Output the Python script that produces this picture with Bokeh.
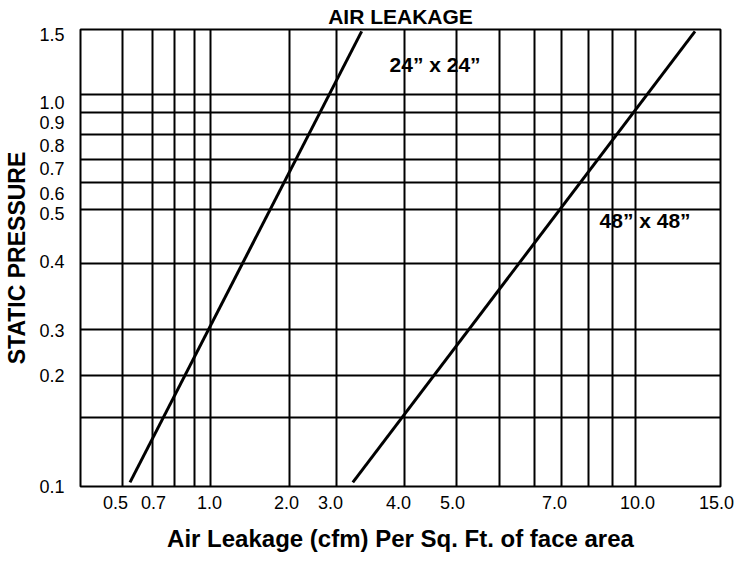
import numpy as np
from bokeh.plotting import figure
from bokeh.models import Range1d, FixedTicker, Label
from bokeh.embed import file_html
from bokeh.resources import INLINE

# ---------------- data ----------------
chart_title = "AIR LEAKAGE"
x_title = "Air Leakage (cfm) Per Sq. Ft. of face area"
y_title = "STATIC PRESSURE"

x_tick_labels = ["0.5", "0.7", "1.0", "2.0", "3.0", "4.0", "5.0", "7.0", "10.0", "15.0"]
x_tick_values = [0.5, 0.7, 1.0, 2.0, 3.0, 4.0, 5.0, 7.0, 10.0, 15.0]
x_grid_values = [0.5, 0.7, 0.8, 0.9, 1.0, 2.0, 3.0, 4.0, 5.0, 5.5, 6.0, 7.0, 8.0, 9.0, 10.0]

y_tick_labels = ["0.1", "0.2", "0.3", "0.4", "0.5", "0.6", "0.7", "0.8", "0.9", "1.0", "1.5"]
y_tick_values = [0.1, 0.2, 0.3, 0.4, 0.5, 0.6, 0.7, 0.8, 0.9, 1.0, 1.5]
y_grid_values = [0.15, 0.2, 0.3, 0.4, 0.5, 0.6, 0.7, 0.8, 0.9, 1.0]

duct_24_leakage = [0.55, 3.37]
duct_24_pressure = [0.103, 1.485]
duct_48_leakage = [3.24, 13.5]
duct_48_pressure = [0.103, 1.485]

series_names = ["24\u201d x 24\u201d", "48\u201d x 48\u201d"]
series_label_leakage = [3.78, 8.46]
series_label_pressure = [1.23, 0.48]

# ---------------- layout: the printed chart's schematic scale ----------------
X_SCALE_KNOTS = [0.5, 0.7, 0.8, 0.9, 1.0, 2.0, 3.0, 4.0, 5.0, 5.5, 6.0, 7.0, 8.0, 9.0, 10.0, 15.0]
X_SCALE_POS = [42, 72, 94, 114, 130, 209, 256, 324, 376, 419, 454, 481, 508, 532, 555, 640]
Y_SCALE_KNOTS = [0.1, 0.15, 0.2, 0.3, 0.4, 0.5, 0.6, 0.7, 0.8, 0.9, 1.0, 1.5]
Y_SCALE_POS = [0, 69, 112, 158, 224, 279, 306, 329, 354, 376, 395, 460]
X_LABEL_NUDGE = [-7, 1, -1, -3, -6, -6, -4, -7, 2, -4]
Y_LABEL_NUDGE = [0, 0, -1, 2, -4, -11, -9, -11, -10, -8, -5]


def xpos(v):
    return np.interp(v, X_SCALE_KNOTS, X_SCALE_POS)


def ypos(v):
    return np.interp(v, Y_SCALE_KNOTS, Y_SCALE_POS)


FONT = "Liberation Sans"

p = figure(width=740, height=554,
           x_range=Range1d(X_SCALE_POS[0] - 42, X_SCALE_POS[-1]),
           y_range=Range1d(Y_SCALE_POS[0], Y_SCALE_POS[-1]),
           min_border_left=80, min_border_right=20,
           min_border_top=29, min_border_bottom=65,
           output_backend="svg", toolbar_location=None,
           background_fill_color="white", border_fill_color="white")

p.outline_line_color = "black"
p.outline_line_width = 2
p.outline_line_alpha = 1.0

# title
p.title.text = chart_title
p.title.align = "center"
p.title.vertical_align = "top"
p.title.offset = -3
p.title.standoff = 0
p.title.text_font = FONT
p.title.text_font_size = "21px"
p.title.text_font_style = "bold"
p.title.text_color = "black"

# grid lines
p.xgrid.ticker = FixedTicker(ticks=[float(v) for v in xpos(x_grid_values)])
p.ygrid.ticker = FixedTicker(ticks=[float(v) for v in ypos(y_grid_values)])
for g in (p.xgrid, p.ygrid):
    g.grid_line_color = "black"
    g.grid_line_width = 2
    g.grid_line_alpha = 1.0

# axes
x_lab_pos = [float(round(v + n)) for v, n in zip(xpos(x_tick_values), X_LABEL_NUDGE)]
y_lab_pos = [float(max(Y_SCALE_POS[0], round(v + n))) for v, n in zip(ypos(y_tick_values), Y_LABEL_NUDGE)]
p.xaxis.ticker = FixedTicker(ticks=x_lab_pos)
p.xaxis.major_label_overrides = {k: t for k, t in zip(x_lab_pos, x_tick_labels)}
p.yaxis.ticker = FixedTicker(ticks=y_lab_pos)
p.yaxis.major_label_overrides = {k: t for k, t in zip(y_lab_pos, y_tick_labels)}

p.xaxis.axis_label = x_title
p.yaxis.axis_label = y_title

for ax in (p.xaxis, p.yaxis):
    ax.axis_line_color = None
    ax.major_tick_line_color = None
    ax.minor_tick_line_color = None
    ax.major_label_text_font = FONT
    ax.major_label_text_font_size = "18px"
    ax.major_label_text_color = "black"
    ax.axis_label_text_font = FONT
    ax.axis_label_text_font_style = "bold"
    ax.axis_label_text_color = "black"

p.xaxis.axis_label_text_font_size = "24px"
p.yaxis.axis_label_text_font_size = "23px"
p.xaxis.major_label_standoff = 3
p.xaxis.axis_label_standoff = 13
p.yaxis.major_label_standoff = 10
p.yaxis.axis_label_standoff = 6

# data lines
p.line(xpos(duct_24_leakage), ypos(duct_24_pressure), line_color="black", line_width=3)
p.line(xpos(duct_48_leakage), ypos(duct_48_pressure), line_color="black", line_width=3)

# series labels
for name, lx, ly in zip(series_names, series_label_leakage, series_label_pressure):
    p.add_layout(Label(x=float(xpos(lx)), y=float(ypos(ly)), text=name,
                       text_font=FONT, text_font_size="21px", text_font_style="bold",
                       text_color="black", text_baseline="middle", text_align="left"))

open("out.html", "w").write(file_html(p, INLINE))
